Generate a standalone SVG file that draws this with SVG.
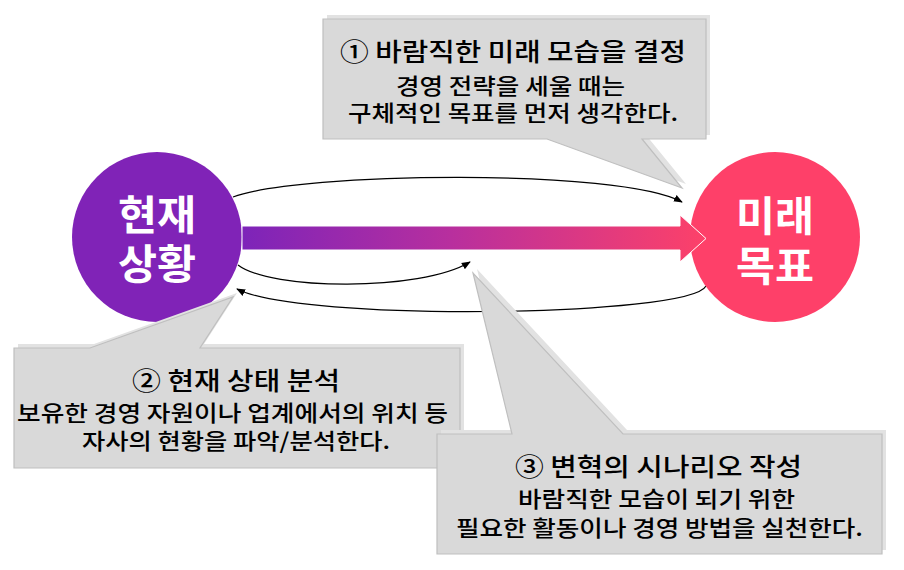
<svg xmlns="http://www.w3.org/2000/svg" width="904" height="570" viewBox="0 0 904 570">
<defs>
<linearGradient id="grad" x1="242" y1="0" x2="706" y2="0" gradientUnits="userSpaceOnUse">
<stop offset="0" stop-color="#7d24b9"/>
<stop offset="0.45" stop-color="#b82f9e"/>
<stop offset="1" stop-color="#fd4169"/>
</linearGradient>
<marker id="ah" viewBox="0 0 10 10" refX="9" refY="5" markerWidth="9" markerHeight="9" markerUnits="userSpaceOnUse" orient="auto">
<path d="M0,1 L10,5 L0,9 Z" fill="#000"/>
</marker>
<style>
.shadow{fill:#e2e2e2;stroke:none}
.box{fill:#d9d9d9;stroke:#bfbfbf;stroke-width:1.2}
.t1{font-family:"Noto Sans CJK KR","Noto Sans",sans-serif;font-weight:500;font-size:25px;fill:#000;text-anchor:middle}
.t2{font-family:"Noto Sans CJK KR","Noto Sans",sans-serif;font-weight:500;font-size:22px;fill:#000;text-anchor:middle}
.ct{font-family:"Noto Sans CJK KR","Noto Sans",sans-serif;font-weight:bold;font-size:41px;fill:#fff;text-anchor:middle}
.arc{fill:none;stroke:#000;stroke-width:1.2;marker-end:url(#ah)}
</style>
</defs>
<rect width="904" height="570" fill="#fff"/>
<g id="connectors">
<path class="arc" d="M233,197 C300,172 620,168 682,202"/>
<path class="arc" d="M238,265 C270,290 420,292 470,262"/>
<path class="arc" d="M706,286 C690,317 300,322 237,289"/>
</g>
<g id="node-current">
<circle cx="157" cy="237" r="85" fill="#8023b7"/>
<text class="ct" x="157" y="230" textLength="78" lengthAdjust="spacingAndGlyphs">현재</text>
<text class="ct" x="157" y="279" textLength="78" lengthAdjust="spacingAndGlyphs">상황</text>
</g>
<g id="node-future">
<circle cx="775" cy="237" r="85" fill="#fe4069"/>
<text class="ct" x="775" y="231" textLength="78" lengthAdjust="spacingAndGlyphs">미래</text>
<text class="ct" x="775" y="281" textLength="78" lengthAdjust="spacingAndGlyphs">목표</text>
</g>
<g id="main-arrow">
<path d="M242,226 H680 V215 L706,238.5 L680,262 V250 H242 Z" fill="url(#grad)" stroke="#fff" stroke-width="1"/>
</g>
<g id="callout1">
<path class="shadow" transform="translate(4,-4)" d="M323,19 H706 V139 H642 L682,188 L547,139 H323 Z"/>
<path class="box" d="M323,19 H706 V139 H642 L682,188 L547,139 H323 Z"/>
<text class="t1" x="513" y="61" textLength="346" lengthAdjust="spacingAndGlyphs">① 바람직한 미래 모습을 결정</text>
<text class="t2" x="510.5" y="94" textLength="229" lengthAdjust="spacingAndGlyphs">경영 전략을 세울 때는</text>
<text class="t2" x="513" y="121" textLength="330" lengthAdjust="spacingAndGlyphs">구체적인 목표를 먼저 생각한다.</text>
</g>
<g id="callout2">
<path class="shadow" transform="translate(4,-4)" d="M14,348 H90 L233,297 L200,348 H460 V468 H14 Z"/>
<path class="box" d="M14,348 H90 L233,297 L200,348 H460 V468 H14 Z"/>
<text class="t1" x="236" y="390" textLength="208" lengthAdjust="spacingAndGlyphs">② 현재 상태 분석</text>
<text class="t2" x="232.5" y="421" textLength="431" lengthAdjust="spacingAndGlyphs">보유한 경영 자원이나 업계에서의 위치 등</text>
<text class="t2" x="236" y="449" textLength="308" lengthAdjust="spacingAndGlyphs">자사의 현황을 파악/분석한다.</text>
</g>
<g id="callout3">
<path class="shadow" transform="translate(4,-4)" d="M437,434 H512 L473,273 L623,434 H882 V554 H437 Z"/>
<path class="box" d="M437,434 H512 L473,273 L623,434 H882 V554 H437 Z"/>
<text class="t1" x="658.5" y="476" textLength="287" lengthAdjust="spacingAndGlyphs">③ 변혁의 시나리오 작성</text>
<text class="t2" x="656.5" y="507" textLength="277" lengthAdjust="spacingAndGlyphs">바람직한 모습이 되기 위한</text>
<text class="t2" x="659.5" y="536" textLength="407" lengthAdjust="spacingAndGlyphs">필요한 활동이나 경영 방법을 실천한다.</text>
</g>
</svg>
